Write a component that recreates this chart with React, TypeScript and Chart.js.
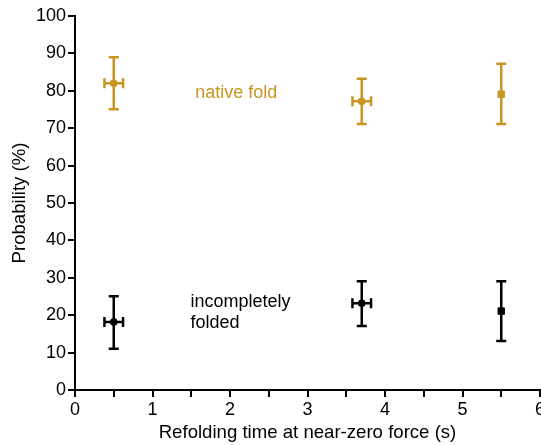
import React, { useEffect, useRef } from "react";
import { Chart, registerables } from "chart.js";

Chart.register(...registerables);

const xValues = [0.5, 3.7, 5.5];
const xErr = [0.12, 0.12, 0];
const nativeY = [82, 77.2, 79.1];
const nativeLow = [75.1, 71.1, 71.1];
const nativeHigh = [89, 83.2, 87.2];
const incompleteY = [18.2, 23.2, 21.1];
const incompleteLow = [11, 17.1, 13.1];
const incompleteHigh = [25.1, 29.1, 29.1];
const pointStyles = ["circle", "circle", "rect"];
const pointRadii = [3.5, 3.5, 4.5];
const xTickLabels = ["0", "1", "2", "3", "4", "5", "6"];

const GOLD = "#C8951F";
const BLACK = "#000000";
const FONT = "'Liberation Sans', Arial, sans-serif";

const errorBarPlugin = {
  id: "errorBars",
  afterDatasetsDraw(chart: any) {
    const ctx = chart.ctx;
    const xs = chart.scales.x;
    const ys = chart.scales.y;
    const groups = [
      { y: nativeY, lo: nativeLow, hi: nativeHigh, color: GOLD },
      { y: incompleteY, lo: incompleteLow, hi: incompleteHigh, color: BLACK },
    ];
    const cap = 5;
    ctx.save();
    ctx.lineWidth = 2.5;
    groups.forEach((g) => {
      ctx.strokeStyle = g.color;
      xValues.forEach((xv, i) => {
        const px = xs.getPixelForValue(xv);
        const py = ys.getPixelForValue(g.y[i]);
        const pLo = ys.getPixelForValue(g.lo[i]);
        const pHi = ys.getPixelForValue(g.hi[i]);
        ctx.beginPath();
        ctx.moveTo(px, pLo);
        ctx.lineTo(px, pHi);
        ctx.moveTo(px - cap, pLo);
        ctx.lineTo(px + cap, pLo);
        ctx.moveTo(px - cap, pHi);
        ctx.lineTo(px + cap, pHi);
        if (xErr[i] > 0) {
          const pl = xs.getPixelForValue(xv - xErr[i]);
          const pr = xs.getPixelForValue(xv + xErr[i]);
          ctx.moveTo(pl, py);
          ctx.lineTo(pr, py);
          ctx.moveTo(pl, py - cap);
          ctx.lineTo(pl, py + cap);
          ctx.moveTo(pr, py - cap);
          ctx.lineTo(pr, py + cap);
        }
        ctx.stroke();
      });
    });
    ctx.font = `18px ${FONT}`;
    ctx.textBaseline = "middle";
    ctx.textAlign = "left";
    ctx.fillStyle = GOLD;
    ctx.fillText("native fold", xs.getPixelForValue(1.55), ys.getPixelForValue(79.5));
    ctx.fillStyle = BLACK;
    ctx.fillText("incompletely", xs.getPixelForValue(1.49), ys.getPixelForValue(23.6));
    ctx.fillText("folded", xs.getPixelForValue(1.49), ys.getPixelForValue(17.8));
    ctx.restore();
  },
};

export default function App() {
  const ref = useRef<HTMLCanvasElement | null>(null);
  useEffect(() => {
    document.body.style.margin = "0";
    Chart.defaults.font.family = FONT;
    Chart.defaults.font.size = 18;
    Chart.defaults.color = "#000";
    const chart = new Chart(ref.current as HTMLCanvasElement, {
      type: "scatter",
      data: {
        datasets: [
          {
            label: "native fold",
            data: xValues.map((x, i) => ({ x, y: nativeY[i] })),
            backgroundColor: GOLD,
            borderColor: GOLD,
            pointStyle: pointStyles as any,
            pointRadius: pointRadii,
          },
          {
            label: "incompletely folded",
            data: xValues.map((x, i) => ({ x, y: incompleteY[i] })),
            backgroundColor: BLACK,
            borderColor: BLACK,
            pointStyle: pointStyles as any,
            pointRadius: pointRadii,
          },
        ],
      },
      options: {
        animation: false,
        responsive: false,
        layout: { padding: { top: 16, right: 20, left: 0, bottom: 0 } },
        plugins: { legend: { display: false }, tooltip: { enabled: false } },
        scales: {
          x: {
            type: "linear",
            min: 0,
            max: 6,
            afterFit: (s: any) => {
              s.height = 55;
            },
            ticks: {
              stepSize: 0.5,
              autoSkip: false,
              maxRotation: 0,
              padding: 2,
              callback: (v: any) => {
                const n = Number(v);
                return Number.isInteger(n) ? xTickLabels[n] : "";
              },
            },
            grid: {
              display: true,
              drawOnChartArea: false,
              drawTicks: true,
              tickLength: 7,
              color: "#000",
              lineWidth: 2,
            },
            border: { display: true, color: "#000", width: 2 },
            title: {
              display: true,
              text: "Refolding time at near-zero force (s)",
              font: { size: 18.6 },
              padding: { top: 0, bottom: 1 },
            },
          },
          y: {
            min: 0,
            max: 100,
            afterFit: (s: any) => {
              s.width = 75;
            },
            ticks: { stepSize: 10, padding: 2 },
            grid: {
              display: true,
              drawOnChartArea: false,
              drawTicks: true,
              tickLength: 7,
              color: "#000",
              lineWidth: 2,
            },
            border: { display: true, color: "#000", width: 2 },
            title: {
              display: true,
              text: "Probability (%)",
              font: { size: 18.6 },
              padding: { top: 9, bottom: 0 },
            },
          },
        },
      },
      plugins: [errorBarPlugin],
    });
    return () => chart.destroy();
  }, []);
  return (
    <div style={{ width: 541, height: 445, overflow: "hidden", position: "relative" }}>
      <canvas ref={ref} width={560} height={445} style={{ display: "block" }} />
    </div>
  );
}
